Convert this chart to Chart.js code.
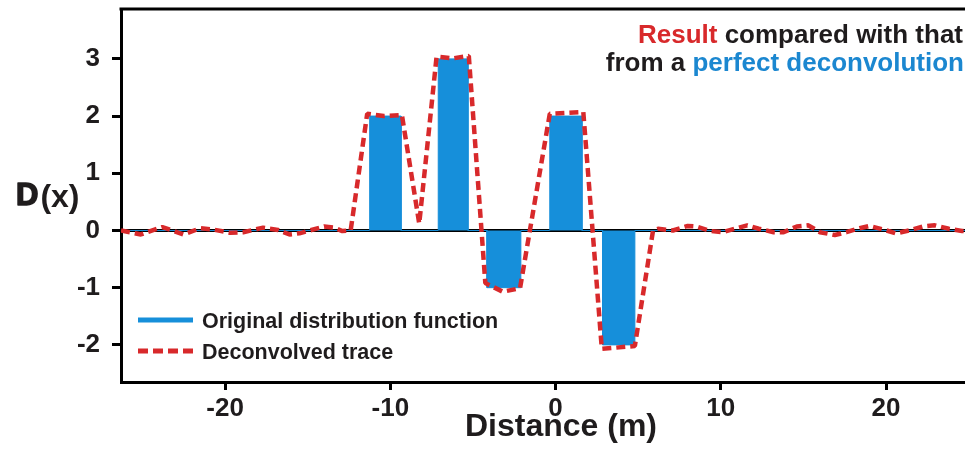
<!DOCTYPE html>
<html><head><meta charset="utf-8">
<script src="https://cdn.jsdelivr.net/npm/chart.js@4.4.1/dist/chart.umd.min.js"></script>
<style>html,body{margin:0;padding:0;background:#fff;overflow:hidden}#wrap{width:965px;height:453px;position:relative}</style>
</head><body><div id="wrap"><canvas id="c" width="965" height="453"></canvas></div>
<script>
// ---- data ----
const seriesNames = ['Original distribution function', 'Deconvolved trace'];
// original distribution: rectangular cells (start, end, height)
const barStart  = [-11.25, -7.1, -4.15, -0.35, 2.85];
const barEnd    = [-9.35, -5.3, -2.1, 1.6, 4.8];
const barHeight = [2, 3, -1, 2, -2];
// deconvolved trace
const traceX = [-26.3, -25.1, -23.8, -22.5, -21.5, -20.8, -19.7, -18.9, -17.7, -16.8, -16.1, -15.5, -14.0, -13.4, -12.9, -12.4,
  -11.4, -10.4, -9.3, -8.25, -7.2, -6.2, -5.25, -4.25, -3.2, -2.15, -0.35, 1.68, 2.8, 4.8, 5.9,
  6.2, 7.1, 8.0, 8.5, 9.4, 10.1, 11.6, 12.3, 13.2, 13.8, 14.6, 15.3, 16.0, 16.9, 17.6, 18.4, 19.0, 19.8, 20.6, 21.4, 22.25, 22.95, 23.8, 24.6, 24.8];
const traceY = [0.0, -0.07, 0.06, -0.07, 0.04, 0.02, -0.04, -0.03, 0.05, 0.01, -0.07, -0.05, 0.07, 0.05, -0.01, 0.0,
  2.04, 2.0, 2.02, 0.12, 3.04, 3.01, 3.05, -0.92, -1.07, -1.01, 2.04, 2.07, -2.07, -2.02, 0.0,
  0.03, 0.0, 0.08, 0.07, -0.01, -0.03, 0.09, 0.03, -0.03, -0.03, 0.07, 0.09, -0.03, -0.08, -0.03, 0.04, 0.08, 0.02, -0.05, 0.0, 0.07, 0.09, 0.03, -0.01, -0.01];
const xTicks = [-20, -10, 0, 10, 20];
const yTicks = [-2, -1, 0, 1, 2, 3];
const xRange = [-26.3, 24.78];
const yRange = [-2.649, 3.872];
const xTitle = 'Distance (m)';
const yTitleMain = 'D';
const yTitleRest = '(x)';
const noteLine1 = ['Result', ' compared with that'];
const noteLine2 = ['from a ', 'perfect deconvolution'];

// ---- styles ----
const BLUE = '#168fda';
const RED = '#d8292b';
const INK = '#1f1c1d';
const FAM = "'Liberation Sans', Arial, Helvetica, sans-serif";

const origPts = [{x: xRange[0], y: 0}];
barStart.forEach((s, i) => {
  origPts.push({x: s, y: 0}, {x: s, y: barHeight[i]}, {x: barEnd[i], y: barHeight[i]}, {x: barEnd[i], y: 0});
});
origPts.push({x: xRange[1], y: 0});
const tracePts = traceX.map((x, i) => ({x, y: traceY[i]}));

const textPlugin = {
  id: 'texts',
  afterDraw(chart) {
    const ctx = chart.ctx;
    const a = chart.chartArea;
    ctx.save();
    // top frame line
    ctx.strokeStyle = '#000'; ctx.lineWidth = 3;
    ctx.beginPath(); ctx.moveTo(a.left - 1.5, a.top); ctx.lineTo(chart.width, a.top); ctx.stroke();
    ctx.textBaseline = 'alphabetic';
    ctx.textAlign = 'left';
    // note at top right
    ctx.font = 'bold 26px ' + FAM;
    const drawParts = (parts, colors, right, base) => {
      const w = parts.reduce((acc, p) => acc + ctx.measureText(p).width, 0);
      let x = right - w;
      parts.forEach((p, i) => { ctx.fillStyle = colors[i]; ctx.fillText(p, x, base); x += ctx.measureText(p).width; });
    };
    drawParts(noteLine1, [RED, INK], 963, 43);
    drawParts(noteLine2, [INK, '#1b87d0'], 964, 71);
    // y title
    ctx.fillStyle = INK;
    ctx.font = 'bold 31px ' + FAM;
    ctx.strokeStyle = INK; ctx.lineWidth = 1.6; ctx.lineJoin = 'round';
    ctx.fillText(yTitleMain, 16, 205);
    ctx.strokeText(yTitleMain, 16, 205);
    const dW = ctx.measureText(yTitleMain).width;
    ctx.font = 'bold 32px ' + FAM;
    ctx.fillText(yTitleRest, 16 + dW + 2, 207);
    // x title
    ctx.font = 'bold 32px ' + FAM;
    ctx.textAlign = 'center';
    ctx.fillText(xTitle, 561, 436);
    // legend
    ctx.textAlign = 'left';
    ctx.font = 'bold 21.5px ' + FAM;
    const ds = chart.data.datasets;
    const rows = [320, 351];
    ds.forEach((d, i) => {
      const y = rows[i];
      ctx.save();
      ctx.strokeStyle = d.legendColor;
      ctx.lineWidth = 5;
      ctx.setLineDash(d.borderDash ? [10, 5] : []);
      ctx.beginPath(); ctx.moveTo(138, y); ctx.lineTo(193, y); ctx.stroke();
      ctx.restore();
      ctx.fillStyle = INK;
      ctx.fillText(d.label, 202, y + 7.5);
    });
    ctx.restore();
  }
};

const xFont = {family: FAM, size: 26, weight: 'bold'};
const yFont = {family: FAM, size: 26, weight: 'bold'};

new Chart(document.getElementById('c'), {
  type: 'line',
  data: {
    datasets: [
      {label: seriesNames[0], data: origPts, borderColor: BLUE, legendColor: BLUE, backgroundColor: BLUE, borderWidth: 1,
       fill: 'origin', pointRadius: 0, tension: 0, order: 2},
      {label: seriesNames[1], data: tracePts, borderColor: RED, legendColor: RED, borderWidth: 4.5, borderDash: [9, 5],
       borderJoinStyle: 'bevel', fill: false, pointRadius: 0, tension: 0, order: 1}
    ]
  },
  options: {
    responsive: false, animation: false, devicePixelRatio: 1,
    layout: {padding: {top: 9, left: 0, right: 0, bottom: 0}},
    plugins: {legend: {display: false}, tooltip: {enabled: false}},
    scales: {
      x: {
        type: 'linear', position: 'bottom', min: xRange[0], max: xRange[1],
        afterFit(s) { s.height = 71; s.paddingLeft = 0; s.paddingRight = 0; },
        afterBuildTicks(s) { s.ticks = xTicks.map(v => ({value: v})); },
        grid: {drawOnChartArea: false, drawTicks: true, tickLength: 8, tickColor: '#000', tickWidth: 3},
        border: {display: true, color: '#000', width: 3},
        ticks: {font: xFont, color: INK, padding: 3, maxRotation: 0, autoSkip: false, callback: v => String(v)}
      },
      y: {
        type: 'linear', position: 'left', min: yRange[0], max: yRange[1],
        afterFit(s) { s.width = 121; s.paddingTop = 0; s.paddingBottom = 0; },
        afterBuildTicks(s) { s.ticks = yTicks.map(v => ({value: v})); },
        grid: {color: c => (c.tick && c.tick.value === 0) ? '#000' : 'rgba(0,0,0,0)', lineWidth: 3,
               drawTicks: true, tickLength: 9, tickColor: '#000', tickWidth: 3},
        border: {display: true, color: '#000', width: 3},
        ticks: {font: yFont, color: INK, padding: 12, autoSkip: false, callback: v => String(v)}
      }
    }
  },
  plugins: [textPlugin]
});
</script>
</body></html>
